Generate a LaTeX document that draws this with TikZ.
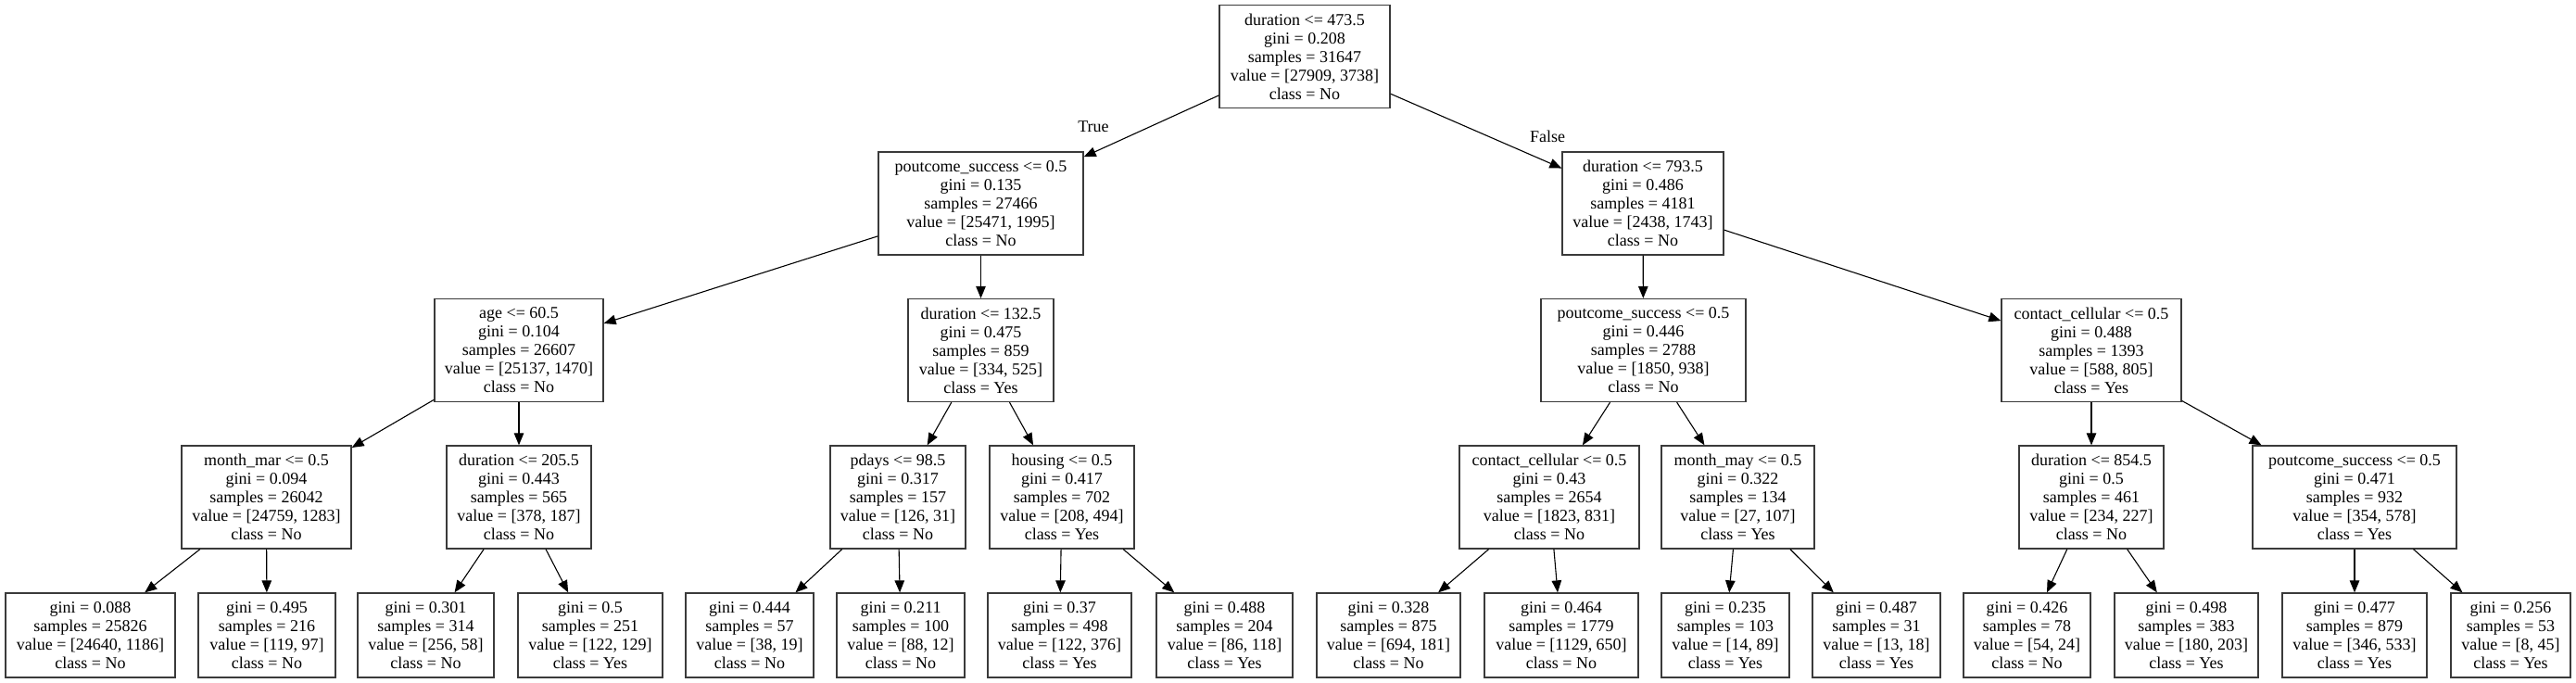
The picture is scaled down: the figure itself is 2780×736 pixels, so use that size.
\documentclass[tikz,border=0pt]{standalone}
\usepackage{fontspec}
\setmainfont{Liberation Serif}
\usetikzlibrary{arrows.meta}
\definecolor{boxline}{HTML}{3A3A3A}
\tikzset{
  tbox/.style={draw=boxline, line width=1.3pt, fill=white, inner sep=0pt, align=center,
    font=\fontsize{18}{20}\selectfont, minimum height=111pt},
  leaf/.style={tbox, minimum height=91pt},
  edge/.style={line width=1.1pt, -{Triangle[length=13pt,width=10.5pt]}},
  elabel/.style={font=\fontsize{18}{20}\selectfont}
}
\begin{document}
\begin{tikzpicture}[x=1pt,y=-1pt]
\useasboundingbox[fill=white] (0,0) rectangle (2780,736);
% level 1
\node[tbox, minimum width=184pt] (root) at (1408,61) {duration <= 473.5\\gini = 0.208\\samples = 31647\\value = [27909, 3738]\\class = No};
% level 2
\node[tbox, minimum width=221pt] (n1) at (1058.5,219.5) {poutcome\_success <= 0.5\\gini = 0.135\\samples = 27466\\value = [25471, 1995]\\class = No};
\node[tbox, minimum width=174pt] (n2) at (1773,219.5) {duration <= 793.5\\gini = 0.486\\samples = 4181\\value = [2438, 1743]\\class = No};
% level 3
\node[tbox, minimum width=182pt] (n11) at (560,378) {age <= 60.5\\gini = 0.104\\samples = 26607\\value = [25137, 1470]\\class = No};
\node[tbox, minimum width=157pt] (n12) at (1058.5,378) {duration <= 132.5\\gini = 0.475\\samples = 859\\value = [334, 525]\\class = Yes};
\node[tbox, minimum width=221pt] (n21) at (1773.5,378) {poutcome\_success <= 0.5\\gini = 0.446\\samples = 2788\\value = [1850, 938]\\class = No};
\node[tbox, minimum width=194pt] (n22) at (2257,378) {contact\_cellular <= 0.5\\gini = 0.488\\samples = 1393\\value = [588, 805]\\class = Yes};
% level 4
\node[tbox, minimum width=183pt] (n111) at (287.5,536.5) {month\_mar <= 0.5\\gini = 0.094\\samples = 26042\\value = [24759, 1283]\\class = No};
\node[tbox, minimum width=156pt] (n112) at (560,536.5) {duration <= 205.5\\gini = 0.443\\samples = 565\\value = [378, 187]\\class = No};
\node[tbox, minimum width=146pt] (n121) at (969,536.5) {pdays <= 98.5\\gini = 0.317\\samples = 157\\value = [126, 31]\\class = No};
\node[tbox, minimum width=156pt] (n122) at (1146,536.5) {housing <= 0.5\\gini = 0.417\\samples = 702\\value = [208, 494]\\class = Yes};
\node[tbox, minimum width=194pt] (n211) at (1672,536.5) {contact\_cellular <= 0.5\\gini = 0.43\\samples = 2654\\value = [1823, 831]\\class = No};
\node[tbox, minimum width=165pt] (n212) at (1875.5,536.5) {month\_may <= 0.5\\gini = 0.322\\samples = 134\\value = [27, 107]\\class = Yes};
\node[tbox, minimum width=156pt] (n221) at (2257,536.5) {duration <= 854.5\\gini = 0.5\\samples = 461\\value = [234, 227]\\class = No};
\node[tbox, minimum width=220pt] (n222) at (2541,536.5) {poutcome\_success <= 0.5\\gini = 0.471\\samples = 932\\value = [354, 578]\\class = Yes};
% level 5
\node[leaf, minimum width=183pt] (l1) at (97.5,685.5) {gini = 0.088\\samples = 25826\\value = [24640, 1186]\\class = No};
\node[leaf, minimum width=148pt] (l2) at (288,685.5) {gini = 0.495\\samples = 216\\value = [119, 97]\\class = No};
\node[leaf, minimum width=147pt] (l3) at (459.5,685.5) {gini = 0.301\\samples = 314\\value = [256, 58]\\class = No};
\node[leaf, minimum width=156pt] (l4) at (637,685.5) {gini = 0.5\\samples = 251\\value = [122, 129]\\class = Yes};
\node[leaf, minimum width=138pt] (l5) at (809,685.5) {gini = 0.444\\samples = 57\\value = [38, 19]\\class = No};
\node[leaf, minimum width=138pt] (l6) at (972,685.5) {gini = 0.211\\samples = 100\\value = [88, 12]\\class = No};
\node[leaf, minimum width=155pt] (l7) at (1143.5,685.5) {gini = 0.37\\samples = 498\\value = [122, 376]\\class = Yes};
\node[leaf, minimum width=147pt] (l8) at (1321.5,685.5) {gini = 0.488\\samples = 204\\value = [86, 118]\\class = Yes};
\node[leaf, minimum width=155pt] (l9) at (1498.5,685.5) {gini = 0.328\\samples = 875\\value = [694, 181]\\class = No};
\node[leaf, minimum width=166pt] (l10) at (1685,685.5) {gini = 0.464\\samples = 1779\\value = [1129, 650]\\class = No};
\node[leaf, minimum width=138pt] (l11) at (1862,685.5) {gini = 0.235\\samples = 103\\value = [14, 89]\\class = Yes};
\node[leaf, minimum width=138pt] (l12) at (2025,685.5) {gini = 0.487\\samples = 31\\value = [13, 18]\\class = Yes};
\node[leaf, minimum width=137pt] (l13) at (2187.5,685.5) {gini = 0.426\\samples = 78\\value = [54, 24]\\class = No};
\node[leaf, minimum width=155pt] (l14) at (2359.5,685.5) {gini = 0.498\\samples = 383\\value = [180, 203]\\class = Yes};
\node[leaf, minimum width=156pt] (l15) at (2541,685.5) {gini = 0.477\\samples = 879\\value = [346, 533]\\class = Yes};
\node[leaf, minimum width=129pt] (l16) at (2709.5,685.5) {gini = 0.256\\samples = 53\\value = [8, 45]\\class = Yes};
% edges
\draw[edge] (root) -- (n1);
\draw[edge] (root) -- (n2);
\node[elabel] (tl) at (1180,137) {True};
\node[elabel] (fl) at (1670,147) {False};
\draw[edge] (n1) -- (n11);
\draw[edge] (n1) -- (n12);
\draw[edge] (n2) -- (n21);
\draw[edge] (n2) -- (n22);
\draw[edge] (n11) -- (n111);
\draw[edge] (n11) -- (n112);
\draw[edge] (n12) -- (n121);
\draw[edge] (n12) -- (n122);
\draw[edge] (n21) -- (n211);
\draw[edge] (n21) -- (n212);
\draw[edge] (n22) -- (n221);
\draw[edge] (n22) -- (n222);
\draw[edge] (n111) -- (l1);
\draw[edge] (n111) -- (l2);
\draw[edge] (n112) -- (l3);
\draw[edge] (n112) -- (l4);
\draw[edge] (n121) -- (l5);
\draw[edge] (n121) -- (l6);
\draw[edge] (n122) -- (l7);
\draw[edge] (n122) -- (l8);
\draw[edge] (n211) -- (l9);
\draw[edge] (n211) -- (l10);
\draw[edge] (n212) -- (l11);
\draw[edge] (n212) -- (l12);
\draw[edge] (n221) -- (l13);
\draw[edge] (n221) -- (l14);
\draw[edge] (n222) -- (l15);
\draw[edge] (n222) -- (l16);
\end{tikzpicture}
\end{document}
